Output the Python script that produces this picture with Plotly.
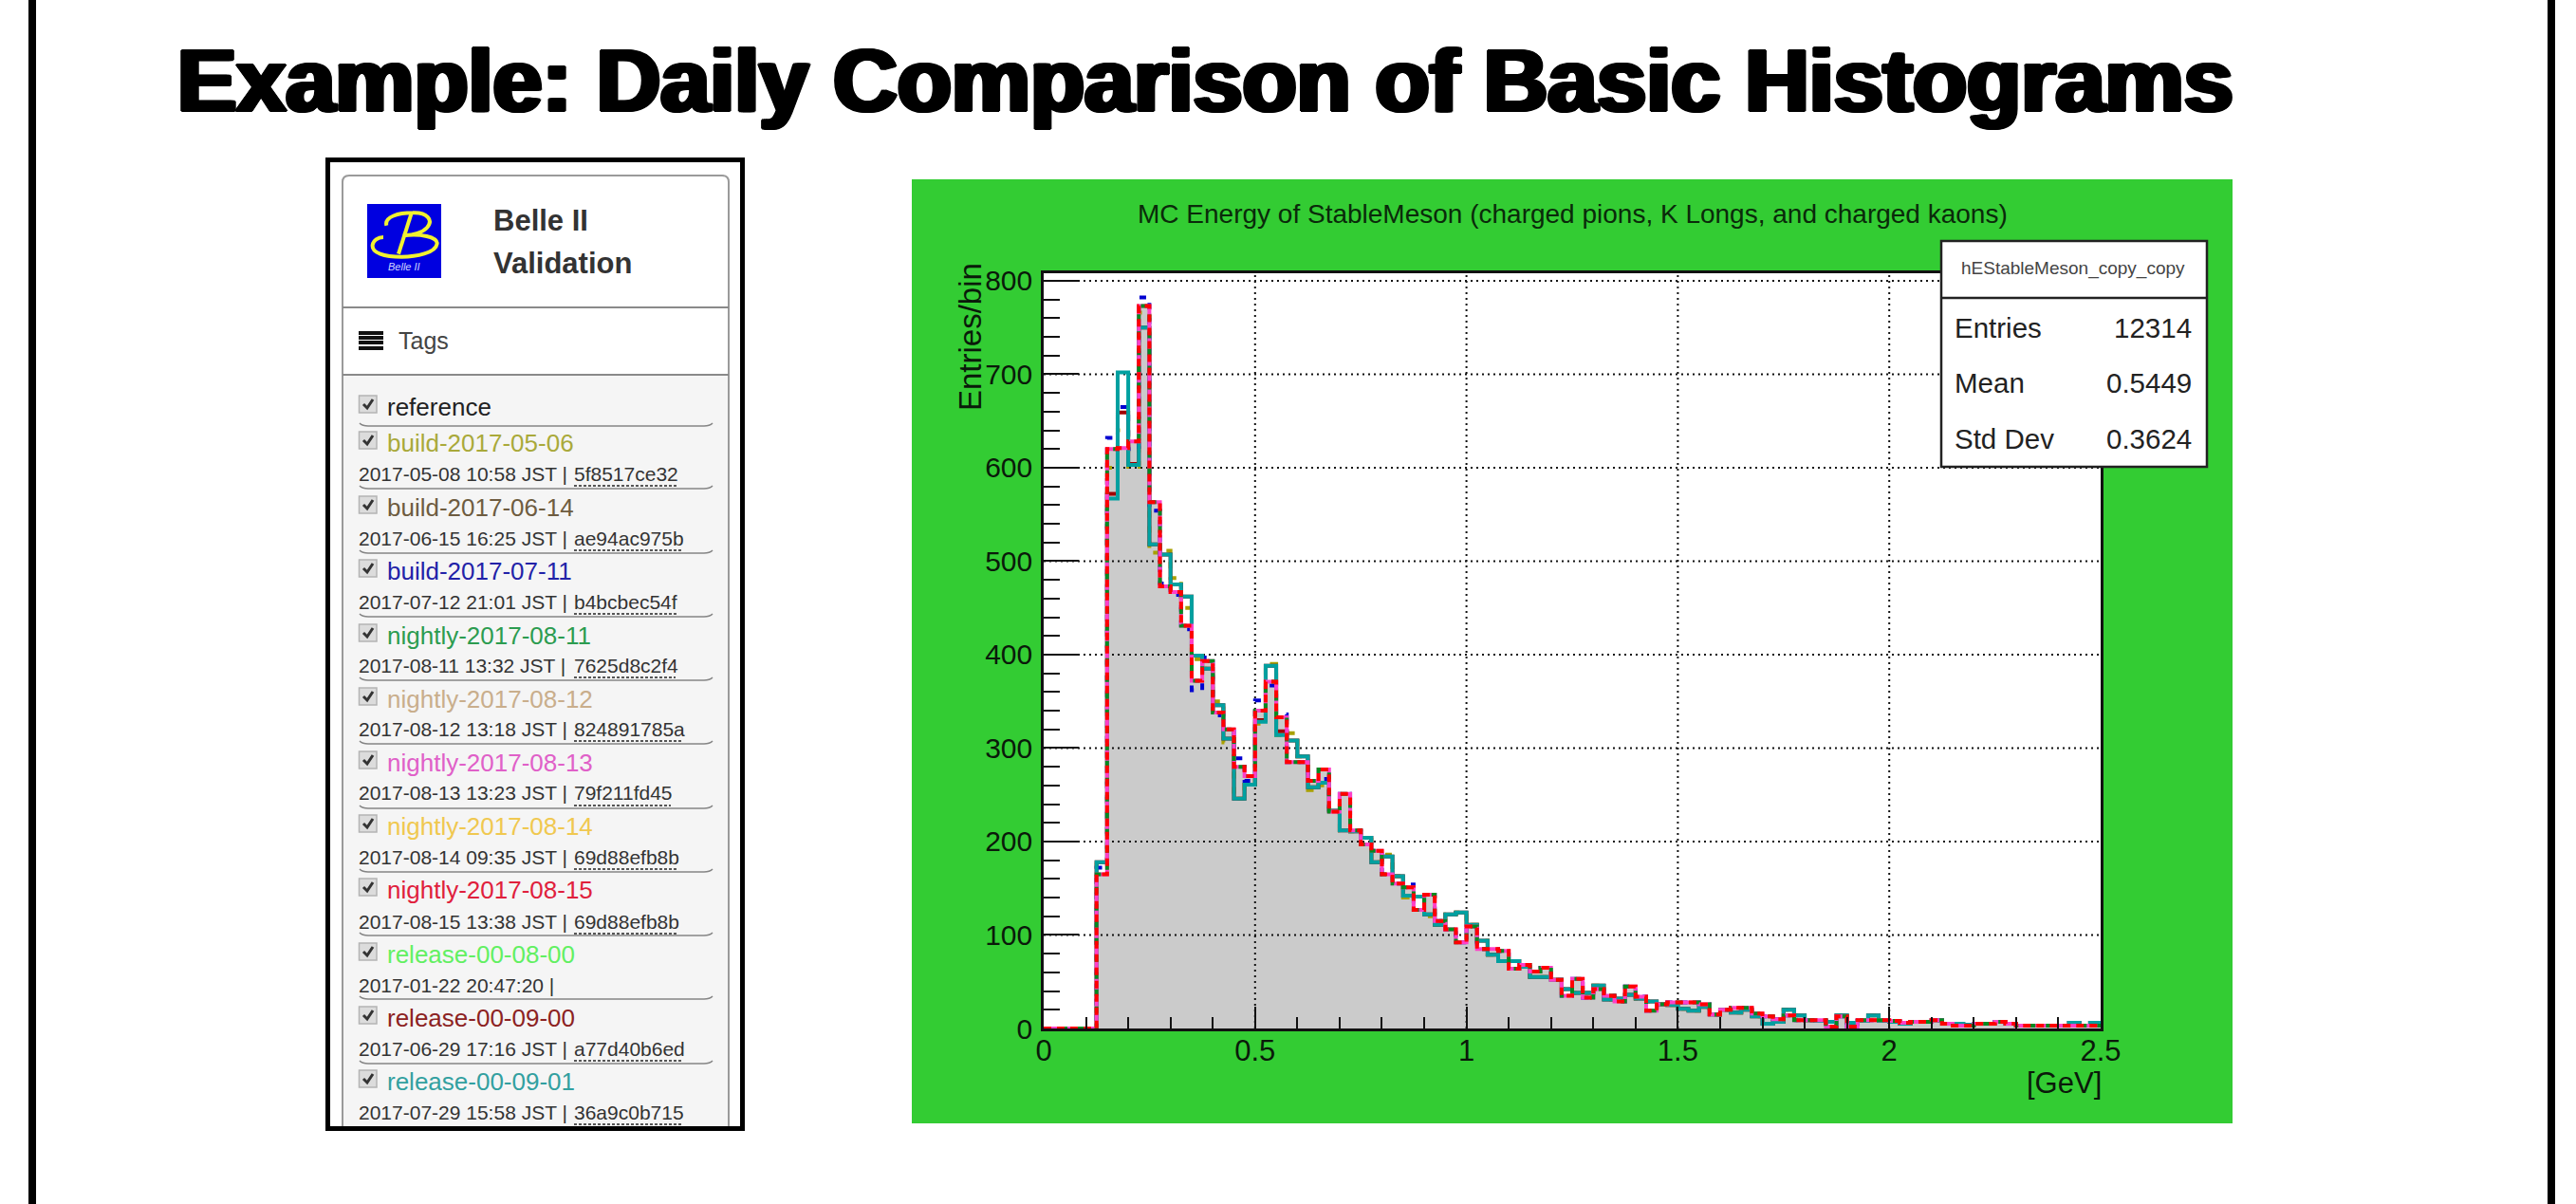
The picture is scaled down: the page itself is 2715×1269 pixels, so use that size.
import plotly.graph_objects as go

W, H = 2715, 1269

# ---------- data ----------
bin_width = 0.025
red = [0,0,0,0,0,165,620,621,628,773,563,473,467,431,372,393,338,320,280,270,
       340,371,333,285,285,265,277,232,251,212,197,190,165,155,151,127,143,115,106,92,
       109,85,85,83,64,68,61,65,52,35,53,33,42,35,29,45,34,19,26,28,
       28,28,26,15,20,22,22,16,13,10,14,9,9,9,2,13,2,9,9,9,
       8,6,7,7,9,5,3,3,5,5,7,5,3,3,3,3,3,3,3,3]
teal = [0,0,0,0,0,178,567,702,603,750,518,507,475,462,399,385,346,310,246,261,
        328,388,314,308,291,258,263,233,212,211,204,178,184,163,142,141,122,111,122,124,
        111,94,79,72,72,66,55,55,52,42,38,38,46,31,32,36,32,29,26,25,
        21,19,23,15,20,17,20,13,5,7,20,14,9,8,7,14,6,8,14,8,
        7,5,7,7,9,5,5,4,5,5,7,5,3,3,3,3,3,6,3,6]
blue = [0,0,0,0,0,172,632,665,620,782,554,476,464,427,362,397,335,320,289,265,
        351,367,336,285,285,265,267,232,251,212,197,190,165,155,154,127,143,115,106,92,
        109,85,85,83,64,68,61,65,52,35,53,33,42,35,29,45,34,19,26,28,
        28,28,26,15,20,22,22,16,13,10,14,9,9,9,2,13,2,9,9,9,
        8,6,7,7,9,5,3,3,5,5,7,5,3,3,3,3,3,3,3,3]
olive = [0,0,0,0,0,178,600,640,601,766,509,511,482,450,395,385,350,306,246,261,
         326,390,314,316,291,255,260,233,212,211,204,178,186,163,140,141,120,111,122,124,
         111,94,79,72,72,66,55,55,52,42,38,38,46,31,32,36,32,29,26,25,
         21,19,23,15,20,17,20,13,5,7,20,14,9,8,7,14,6,8,14,8,
         7,5,7,7,9,5,5,4,5,5,7,5,3,3,3,3,3,6,3,6]
darkred = [0,0,0,0,0,178,572,659,604,750,518,507,475,462,399,385,346,310,246,261,
           330,388,318,308,291,258,263,233,212,211,204,178,184,163,142,141,122,111,122,124,
           111,94,79,72,72,66,55,55,52,42,38,38,46,31,32,36,32,29,26,25,
           21,19,23,15,20,17,20,13,5,7,20,14,9,8,7,14,6,8,14,8,
           7,5,7,7,9,5,5,4,5,5,7,5,3,3,3,3,3,6,3,6]
assert all(len(s) == 100 for s in (red, teal, blue, olive, darkred))

x_major = [0, 0.5, 1, 1.5, 2, 2.5]
x_minor = [0.1,0.2,0.3,0.4,0.6,0.7,0.8,0.9,1.1,1.2,1.3,1.4,1.6,1.7,1.8,1.9,2.1,2.2,2.3,2.4]
y_major = [0, 100, 200, 300, 400, 500, 600, 700, 800]
y_minor = [20,40,60,80,120,140,160,180,220,240,260,280,320,340,360,380,420,440,460,480,
           520,540,560,580,620,640,660,680,720,740,760,780]

stats_name = "hEStableMeson_copy_copy"
stats_rows = [("Entries", "12314"), ("Mean", "0.5449"), ("Std Dev", "0.3624")]

tags = [
    ("build-2017-05-06", "#a9a93a", "2017-05-08 10:58 JST |", "5f8517ce32"),
    ("build-2017-06-14", "#6e5c40", "2017-06-15 16:25 JST |", "ae94ac975b"),
    ("build-2017-07-11", "#2222a8", "2017-07-12 21:01 JST |", "b4bcbec54f"),
    ("nightly-2017-08-11", "#2c9c50", "2017-08-11 13:32 JST |", "7625d8c2f4"),
    ("nightly-2017-08-12", "#c9ae8c", "2017-08-12 13:18 JST |", "824891785a"),
    ("nightly-2017-08-13", "#e060c8", "2017-08-13 13:23 JST |", "79f211fd45"),
    ("nightly-2017-08-14", "#f0c850", "2017-08-14 09:35 JST |", "69d88efb8b"),
    ("nightly-2017-08-15", "#e0203c", "2017-08-15 13:38 JST |", "69d88efb8b"),
    ("release-00-08-00", "#62f062", "2017-01-22 20:47:20 |", ""),
    ("release-00-09-00", "#8c2222", "2017-06-29 17:16 JST |", "a77d40b6ed"),
    ("release-00-09-01", "#32a0a0", "2017-07-29 15:58 JST |", "36a9c0b715"),
]
tag_y = [467, 535, 602, 670, 737, 804, 871, 938, 1006, 1073, 1140]
date_y = [499, 567, 634, 701, 768, 836, 903, 971, 1038, 1105, 1172]
sep_y = [515, 583, 650, 717, 784, 852, 919, 986, 1053, 1121]
hash_end = [713, 719, 713, 712, 720, 707, 715, 715, 0, 720, 719]

# ---------- helpers ----------
def px(x): return x / W
def py(y): return 1 - y / H

FONT = "Liberation Sans"
shapes, annos = [], []

def rect(x0, y0, x1, y1, fill=None, line=None, lw=0, layer="below"):
    shapes.append(dict(type="rect", xref="paper", yref="paper", x0=px(x0), x1=px(x1),
                       y0=py(y0), y1=py(y1), fillcolor=fill or "rgba(0,0,0,0)",
                       line=dict(color=line or "rgba(0,0,0,0)", width=lw), layer=layer))

def seg(x0, y0, x1, y1, color, lw, dash="solid", layer="above"):
    shapes.append(dict(type="line", xref="paper", yref="paper", x0=px(x0), x1=px(x1),
                       y0=py(y0), y1=py(y1), line=dict(color=color, width=lw, dash=dash), layer=layer))

def path(cmds, fill=None, line=None, lw=1, layer="above"):
    s = ""
    for c in cmds:
        s += c[0] + " " + " ".join(f"{px(c[i]):.6f},{py(c[i+1]):.6f}" for i in range(1, len(c), 2)) + " "
    s = s.strip()
    shapes.append(dict(type="path", xref="paper", yref="paper", path=s,
                       fillcolor=fill or "rgba(0,0,0,0)",
                       line=dict(color=line or "rgba(0,0,0,0)", width=lw), layer=layer))

def text(x, y, s, size, color="#000", xa="left", ya="middle", bold=False, angle=0, shadow=None, family=FONT):
    f = dict(family=family, size=size, color=color)
    if bold: f["weight"] = "bold"
    if shadow: f["shadow"] = shadow
    annos.append(dict(xref="paper", yref="paper", x=px(x), y=py(y), text=s, showarrow=False,
                      xanchor=xa, yanchor=ya, font=f, textangle=angle, borderpad=0, borderwidth=0))

# ---------- slide ----------
rect(30, -2, 38, H + 2, fill="#000")
rect(2685, -2, 2693, H + 2, fill="#000")
text(187, 85, "Example: Daily Comparison of Basic Histograms", 93.5, bold=True,
     shadow="3px 0 0 #000,-3px 0 0 #000,0 1px 0 #000,0 -1px 0 #000,2px 1px 0 #000,-2px -1px 0 #000,2px -1px 0 #000,-2px 1px 0 #000")

# ---------- left panel ----------
rect(345.5, 168.5, 782.5, 1189.5, fill="#fff", line="#000", lw=5, layer="above")
rect(361, 395, 768, 1187, fill="#f5f5f5", layer="above")
path([("M", 361, 1187), ("L", 361, 192), ("Q", 361, 185, 368, 185), ("L", 761, 185),
      ("Q", 768, 185, 768, 192), ("L", 768, 1187)], line="#9a9a9a", lw=2)
seg(361, 324, 768, 324, "#8a8a8a", 2)
seg(361, 395, 768, 395, "#8a8a8a", 2)

# logo
rect(387, 215, 465, 293, fill="#0000e0", layer="above")
def lg(x, y): return (370 + x / 3, 205 + y / 3)
def gp(cmd, *pts):
    out = [cmd]
    for p in pts:
        out += list(lg(*p))
    return tuple(out)
path([gp("M", (112, 98)), gp("C", (105, 70), (150, 58), (195, 58)),
      gp("C", (240, 56), (262, 80), (240, 105)), gp("C", (225, 122), (190, 128), (165, 130)),
      gp("C", (220, 122), (272, 135), (272, 155)), gp("C", (268, 185), (205, 197), (160, 197)),
      gp("C", (105, 197), (65, 185), (68, 160)), gp("C", (70, 145), (85, 135), (102, 135))],
     line="#f2f230", lw=4)
path([gp("M", (190, 62)), gp("L", (150, 188))], line="#f2f230", lw=4)
text(426, 281, "<i>Belle II</i>", 11, color="#cfd6ff", xa="center")

text(520, 232, "Belle II", 31, color="#333", bold=True)
text(520, 277, "Validation", 31, color="#333", bold=True)

# tags heading
for yy in (351, 356, 361, 367):
    rect(378, yy - 2, 404, yy + 2, fill="#111", layer="above")
text(420, 359, "Tags", 25, color="#444")

def checkbox(y):
    shapes.append(dict(type="rect", xref="paper", yref="paper", x0=px(378.5), x1=px(397),
                       y0=py(y - 9), y1=py(y + 9), fillcolor="#dcdcdc",
                       line=dict(color="#b4b4b4", width=1.5), layer="above"))
    path([("M", 383, y), ("L", 387, y + 4), ("L", 393, y - 5)], line="#333", lw=3)

def separator(y):
    path([("M", 379, y - 3), ("Q", 382, y, 388, y), ("L", 742, y), ("Q", 748, y, 751, y - 3)],
         line="#858585", lw=1.6)

checkbox(426)
text(408, 429, "reference", 26, color="#222")
separator(449)
for i, (name, col, d, h) in enumerate(tags):
    checkbox(tag_y[i] - 3)
    text(408, tag_y[i], name, 26, color=col)
    text(378, date_y[i], d, 21, color="#333")
    if h:
        text(605, date_y[i], h, 21, color="#333")
        seg(605, date_y[i] + 13, hash_end[i], date_y[i] + 13, "#222", 1.5, dash="3px,2px")
    if i < len(sep_y):
        separator(sep_y[i])

# ---------- ROOT canvas ----------
X0, X1, YT, YB = 1100, 2214, 288, 1084
rect(961, 189, 2353, 1184, fill="#33cc33")
rect(X0, YT, X1, YB, fill="#ffffff")

edges = [i * bin_width for i in range(len(red) + 1)]
def steps(v): return v + [v[-1]]

fig = go.Figure()
fig.add_trace(go.Scatter(x=edges, y=steps(red), mode="lines", line=dict(shape="hv", width=0),
                         fill="tozeroy", fillcolor="#cbcbcb", hoverinfo="skip", showlegend=False))
# grid drawn over the grey fill, as in ROOT
gx, gy = [], []
for v in x_major[1:-1]:
    gx += [v, v, None]; gy += [0, 808, None]
for v in y_major[1:]:
    gx += [0, 2.5, None]; gy += [v, v, None]
fig.add_trace(go.Scatter(x=gx, y=gy, mode="lines", line=dict(color="#111", width=2, dash="2px,4px"),
                         hoverinfo="skip", showlegend=False))
LW = 4
for vals, col, dash in [(olive, "#a8a000", "7px,9px"),
                        (darkred, "#a00000", "solid"),
                        (blue, "#0000d0", "7px,9px"),
                        (teal, "#00a0a0", "solid"),
                        (red, "#ff40c8", "solid"),
                        (red, "#008a20", "7px,11px"),
                        (red, "#ff0000", "8px,6px")]:
    fig.add_trace(go.Scatter(x=edges, y=steps(vals), mode="lines",
                             line=dict(shape="hv", color=col, width=LW, dash=dash),
                             hoverinfo="skip", showlegend=False))

text(1657, 225, "MC Energy of StableMeson (charged pions, K Longs, and charged kaons)", 28, color="#0a2a0a", xa="center")
text(1022, 355, "Entries/bin", 33, color="#0a1a0a", xa="center", angle=-90)
text(2215, 1141, "[GeV]", 31, color="#0a1a0a", xa="right")

# stats box
rect(2046, 254, 2326, 492, fill="#fff", line="#222", lw=2.5, layer="above")
seg(2046, 314, 2326, 314, "#222", 2.5)
text(2185, 283, stats_name, 19, color="#444", xa="center")
for (k, v), yy in zip(stats_rows, (345, 403, 463)):
    text(2060, yy, k, 29.5, color="#222")
    text(2310, yy, v, 29.5, color="#222", xa="right")

axis_common = dict(showline=True, linecolor="#111", linewidth=2.5, mirror=True, showgrid=False,
                   zeroline=False, ticks="inside", tickcolor="#111", tickwidth=2, automargin=False)
fig.update_layout(
    width=W, height=H, margin=dict(l=0, r=0, t=0, b=0), autosize=False,
    paper_bgcolor="#fff", plot_bgcolor="#fff", showlegend=False,
    shapes=shapes, annotations=annos, font=dict(family=FONT),
    xaxis=dict(domain=[X0 / W, X1 / W], range=[0, 2.5], tickvals=x_major, ticktext=[f"{v:g}" for v in x_major],
               ticklen=23, tickfont=dict(size=31, color="#0a1a0a"), ticklabelstandoff=-6,
               minor=dict(tickvals=x_minor, ticks="inside", ticklen=12, tickcolor="#111", tickwidth=2),
               **axis_common),
    yaxis=dict(domain=[1 - YB / H, 1 - YT / H], range=[0, 808], tickvals=y_major,
               ticklen=37, tickfont=dict(size=30, color="#0a1a0a"), ticklabelstandoff=3,
               minor=dict(tickvals=y_minor, ticks="inside", ticklen=17, tickcolor="#111", tickwidth=2),
               **axis_common),
)
fig.write_html("out.html", config=dict(displayModeBar=False),
               post_script="""document.documentElement.style.margin='0';document.body.style.margin='0';
document.body.style.overflow='hidden';
Plotly.relayout(document.getElementById('{plot_id}'),{width:2715,height:1269});""")
